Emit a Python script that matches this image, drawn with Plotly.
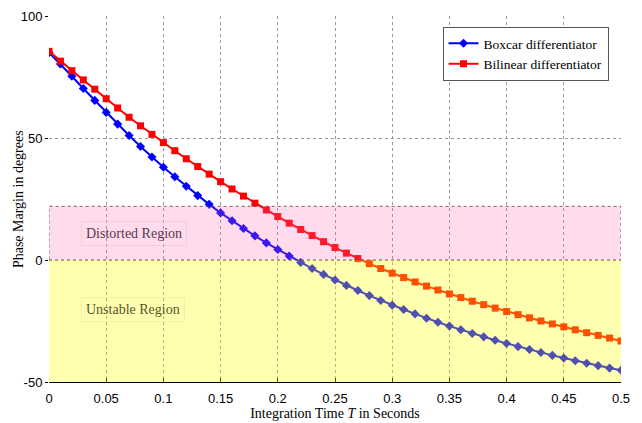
import plotly.graph_objects as go

T = [round(i * 0.01, 2) for i in range(51)]

boxcar = [85.0, 80.3, 75.3, 70.3, 65.4, 60.5, 55.7, 51.0, 46.5, 42.2,
          38.0, 34.1, 30.2, 26.4, 22.8, 19.3, 16.1, 12.9, 9.9, 7.0,
          4.3, 1.6, -1.0, -3.5, -5.9, -8.2, -10.4, -12.5, -14.6, -16.6,
          -18.5, -20.3, -22.1, -23.9, -25.5, -27.1, -28.6, -30.1, -31.5, -32.9,
          -34.2, -35.5, -36.7, -37.9, -39.1, -40.2, -41.3, -42.3, -43.3, -44.3,
          -45.2]

bilinear = [85.5, 81.5, 77.6, 73.8, 70.0, 66.1, 62.3, 58.5, 55.0, 51.5,
            48.1, 44.8, 41.5, 38.3, 35.2, 32.1, 29.1, 26.2, 23.3, 20.5,
            17.8, 15.1, 12.5, 10.0, 7.5, 5.1, 2.8, 0.6, -1.5, -3.5,
            -5.4, -7.2, -9.0, -10.7, -12.3, -13.9, -15.4, -16.9, -18.3, -19.7,
            -21.1, -22.4, -23.7, -25.0, -26.2, -27.4, -28.6, -29.8, -30.9, -32.0,
            -33.2]

x_ticks = [0, 0.05, 0.1, 0.15, 0.2, 0.25, 0.3, 0.35, 0.4, 0.45, 0.5]
x_tick_labels = ["0", "0.05", "0.1", "0.15", "0.2", "0.25", "0.3", "0.35", "0.4", "0.45", "0.5"]
y_ticks = [-50, 0, 50, 100]
y_tick_labels = ["-50", "0", "50", "100"]

distorted_top = 22
region_bottom = -50

serif = "Liberation Serif"
sans = "Liberation Sans"

fig = go.Figure()
fig.add_trace(go.Scatter(
    x=T, y=boxcar, mode="lines+markers", name="Boxcar differentiator",
    line=dict(color="#0000ff", width=2),
    marker=dict(symbol="diamond", size=7, color="#0000ff"),
))
fig.add_trace(go.Scatter(
    x=T, y=bilinear, mode="lines+markers", name="Bilinear differentiator",
    line=dict(color="#ff0000", width=2),
    marker=dict(symbol="square", size=7, color="#ff0000"),
))

# shaded regions drawn above the curves
fig.add_shape(type="rect", xref="x", yref="y", x0=0, x1=0.5, y0=0, y1=distorted_top,
              fillcolor="rgba(255,105,180,0.24)", line=dict(color="rgba(90,60,70,0.8)", width=1, dash="dot"),
              layer="above")
fig.add_shape(type="rect", xref="x", yref="y", x0=0, x1=0.5, y0=region_bottom, y1=0,
              fillcolor="rgba(255,255,0,0.31)", line=dict(width=0),
              layer="above")

fig.add_annotation(x=0.074, y=10.9, xref="x", yref="y", text="Distorted Region", showarrow=False,
                   font=dict(family=serif, size=14, color="#5a3a48"),
                   bordercolor="rgba(235,205,220,0.8)", borderwidth=1, borderpad=4)
fig.add_annotation(x=0.073, y=-20.2, xref="x", yref="y", text="Unstable Region", showarrow=False,
                   font=dict(family=serif, size=14, color="#58582a"),
                   bordercolor="rgba(240,240,170,0.9)", borderwidth=1, borderpad=4)

# y-axis title placed as rotated text
fig.add_annotation(x=-0.054, y=0.5, xref="paper", yref="paper", text="Phase Margin in degrees",
                   showarrow=False, textangle=-90, xanchor="center", yanchor="middle",
                   font=dict(family=serif, size=14, color="black"))

fig.update_layout(
    width=642, height=423,
    margin=dict(l=49, r=21, t=16, b=41),
    paper_bgcolor="white", plot_bgcolor="white",
    showlegend=True,
    legend=dict(x=0.688, y=0.97, xanchor="left", yanchor="top",
                bgcolor="white", bordercolor="#555555", borderwidth=1,
                font=dict(family=serif, size=13.5, color="black"),
                itemwidth=30, tracegroupgap=0),
    font=dict(family=sans, size=13, color="black"),
)
fig.update_xaxes(
    range=[0, 0.5], tickvals=x_ticks, ticktext=x_tick_labels,
    showgrid=True, gridcolor="#999999", griddash="dot", gridwidth=1,
    showline=True, linecolor="black", linewidth=1, mirror=False,
    ticks="inside", ticklen=4, tickcolor="black",
    zeroline=False, automargin=False,
    tickfont=dict(family=sans, size=13),
    ticklabelstandoff=4,
    title=dict(text="Integration Time <i>T</i> in Seconds", font=dict(family=serif, size=14), standoff=2),
)
fig.update_yaxes(
    range=[-50, 100], tickvals=y_ticks, ticktext=y_tick_labels,
    showgrid=True, gridcolor="#999999", griddash="dot", gridwidth=1,
    showline=False, zeroline=False, automargin=False,
    ticks="outside", ticklen=3, tickcolor="black",
    tickfont=dict(family=sans, size=13),
)

fig.write_html("out.html")
